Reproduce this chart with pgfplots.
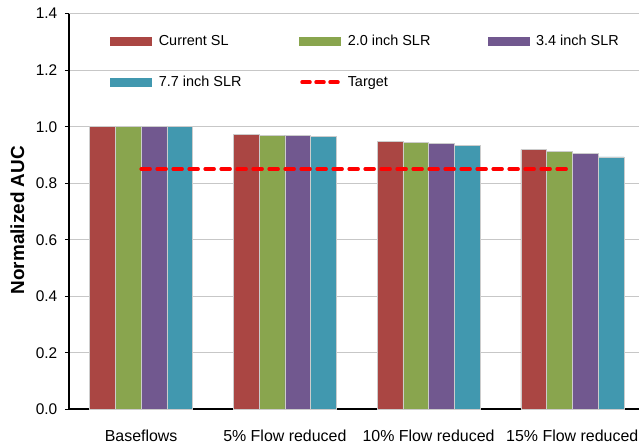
\documentclass[border=0pt]{standalone}
\usepackage{pgfplots}
\usepackage{pgfplotstable}
\pgfplotsset{compat=1.18}
\usepackage{fontspec}
\setmainfont{Liberation Sans}
\definecolor{cRed}{HTML}{AA4643}
\definecolor{cGreen}{HTML}{89A54E}
\definecolor{cPurple}{HTML}{71588F}
\definecolor{cTeal}{HTML}{4198AF}
\pgfplotstableread{
x cur s20 s34 s77
0 1.000 1.000 1.000 1.000
1 0.974 0.970 0.970 0.965
2 0.949 0.944 0.940 0.933
3 0.919 0.914 0.906 0.893
}\datatable
\begin{document}
\begin{tikzpicture}
\useasboundingbox (0,0) rectangle (639bp,447bp);
\clip (0,0) rectangle (639bp,447bp);
\begin{axis}[
  at={(69.3bp,37.7bp)}, anchor=south west,
  x=143.7bp, y=282.6bp,
  xmin=-0.5, xmax=3.5, ymin=0, ymax=1.4,
  axis lines*=left,
  axis line style={black, line width=1.8bp},
  tick align=outside,
  tick style={black, line width=1bp},
  ytick={0,0.2,0.4,0.6,0.8,1.0,1.2,1.4},
  /pgf/number format/fixed,
  /pgf/number format/fixed zerofill,
  /pgf/number format/precision=1,
  /pgf/number format/assume math mode=true,
  yticklabel style={xshift=-4bp, font=\fontsize{15.5}{18}\selectfont},
  ymajorgrids,
  major grid style={draw=black!22, line width=0.9bp},
  major tick length=4.5bp,
  xtick={0,1,2,3},
  xticklabels={Baseflows, 5\% Flow reduced, 10\% Flow reduced, 15\% Flow reduced},
  x tick style={draw=none},
  extra x ticks={0.5,1.5,2.5},
  extra x tick labels={},
  extra x tick style={grid=none, tick style={draw=black, line width=1bp}},
  xticklabel style={yshift=-13bp, font=\fontsize{16}{19}\selectfont},
  ylabel={\textbf{Normalized AUC}},
  every axis y label/.style={at={(rel axis cs:-0.0905,0.478)}, rotate=90, anchor=center, font=\fontsize{19}{22}\selectfont},
  legend columns=3,
  legend style={draw=none, fill=none, at={(rel axis cs:0.0712,0.951)}, anchor=north west,
    inner sep=0pt, row sep=25bp, font=\fontsize{14.5}{17}\selectfont,
    cells={anchor=west},
    /tikz/every odd column/.append style={column sep=5bp}},
  clip=false,
]
\addplot[ybar, bar width=25.75bp, bar shift=-38.625bp, fill=cRed, draw=white!80!black, line width=0.4bp,
  legend image code/.code={\fill[cRed] (0bp,-4bp) rectangle (41bp,4bp);}] table[x=x, y=cur] {\datatable};
\addlegendentry{\makebox[138bp][l]{Current SL}}
\addplot[ybar, bar width=25.75bp, bar shift=-12.875bp, fill=cGreen, draw=white!80!black, line width=0.4bp,
  legend image code/.code={\fill[cGreen] (0bp,-4bp) rectangle (41bp,4bp);}] table[x=x, y=s20] {\datatable};
\addlegendentry{\makebox[138bp][l]{2.0 inch SLR}}
\addplot[ybar, bar width=25.75bp, bar shift=12.875bp, fill=cPurple, draw=white!80!black, line width=0.4bp,
  legend image code/.code={\fill[cPurple] (0bp,-4bp) rectangle (41bp,4bp);}] table[x=x, y=s34] {\datatable};
\addlegendentry{\makebox[138bp][l]{3.4 inch SLR}}
\addplot[ybar, bar width=25.75bp, bar shift=38.625bp, fill=cTeal, draw=white!80!black, line width=0.4bp,
  legend image code/.code={\fill[cTeal] (0bp,-4bp) rectangle (41bp,4bp);}] table[x=x, y=s77] {\datatable};
\addlegendentry{\makebox[138bp][l]{7.7 inch SLR}}
\addplot[sharp plot, no marks, red, line width=3.5bp, dash pattern=on 9bp off 7bp, line cap=round,
  legend image code/.code={\draw[red, line width=3.5bp, dash pattern=on 8bp off 6bp, line cap=round] (3bp,0) -- (40bp,0);}]
  coordinates {(0,0.85) (3,0.85)};
\addlegendentry{\makebox[138bp][l]{Target}}
\end{axis}
\end{tikzpicture}
\end{document}
